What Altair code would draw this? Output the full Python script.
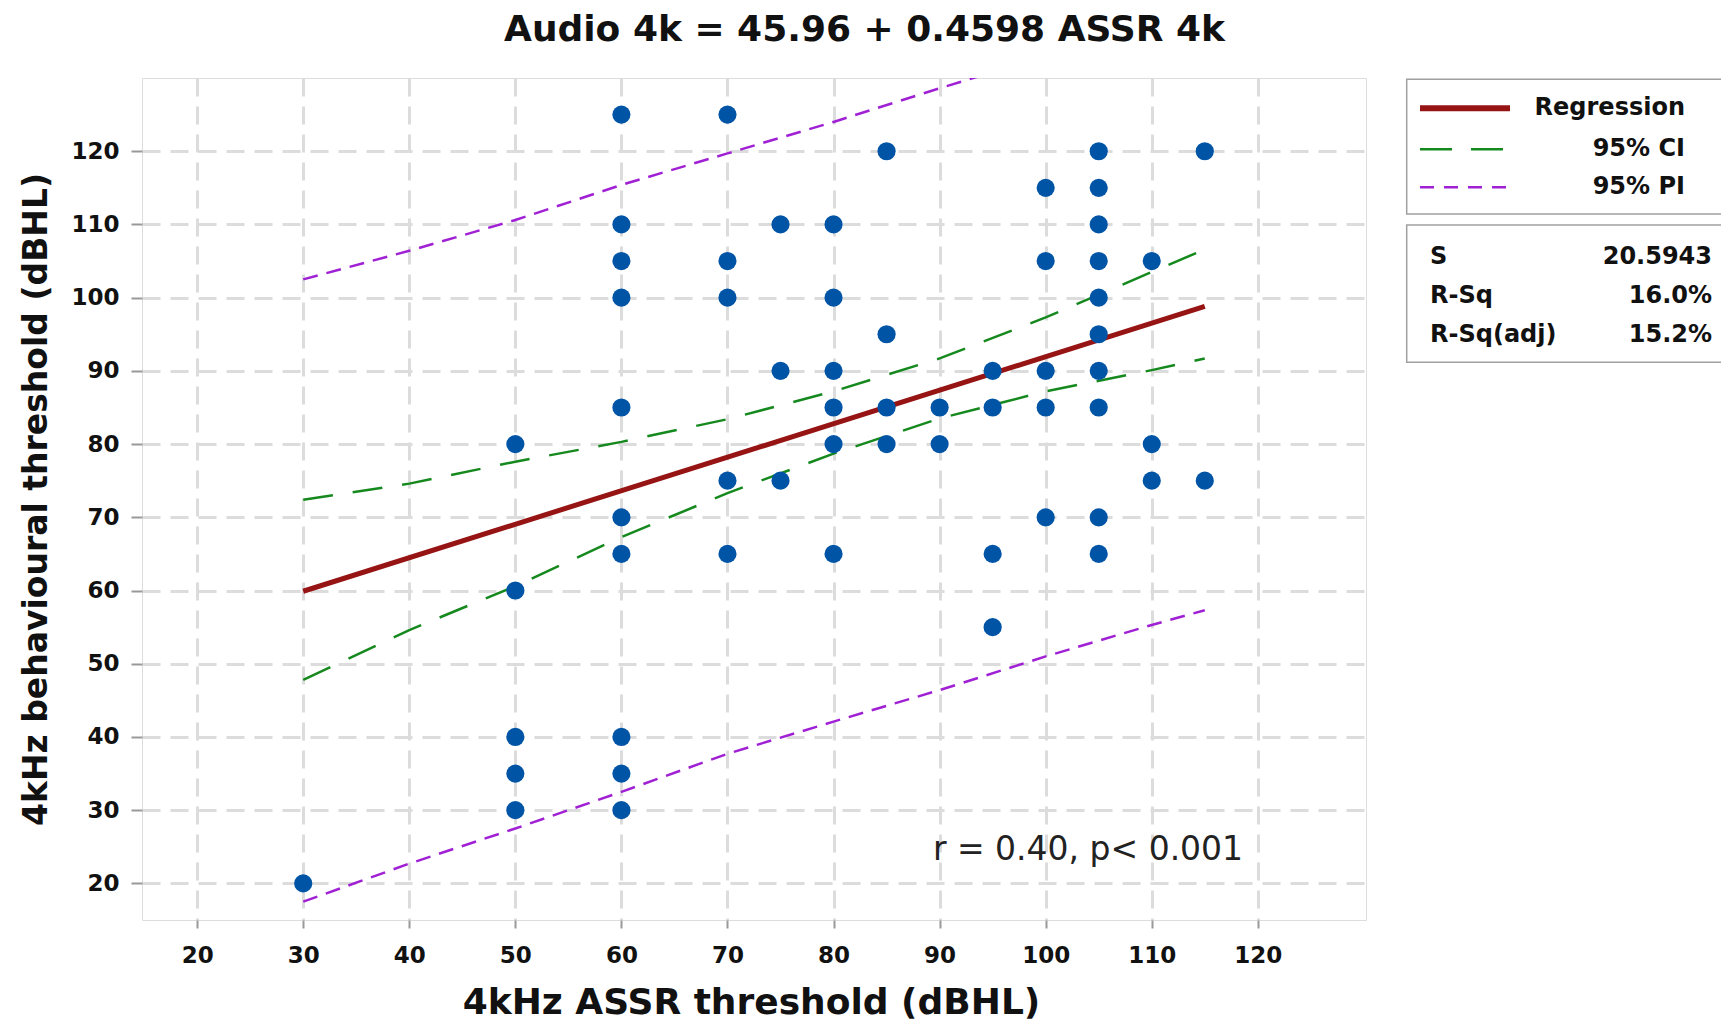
import altair as alt
import pandas as pd

# ---------------- data ----------------
assr_x = [30,
          50, 50, 50, 50, 50,
          60, 60, 60, 60, 60, 60, 60, 60, 60, 60,
          70, 70, 70, 70, 70,
          75, 75, 75,
          80, 80, 80, 80, 80, 80,
          85, 85, 85, 85,
          90, 90,
          95, 95, 95, 95,
          100, 100, 100, 100, 100,
          105, 105, 105, 105, 105, 105, 105, 105, 105, 105,
          110, 110, 110,
          115, 115]
audio_y = [20,
           80, 60, 40, 35, 30,
           125, 110, 105, 100, 85, 70, 65, 40, 35, 30,
           125, 105, 100, 75, 65,
           110, 90, 75,
           110, 100, 90, 85, 80, 65,
           120, 95, 85, 80,
           85, 80,
           90, 85, 65, 55,
           115, 105, 90, 85, 70,
           120, 115, 110, 105, 100, 95, 90, 85, 70, 65,
           105, 80, 75,
           120, 75]

band_x = [30, 40, 50, 60, 70, 80, 90, 100, 110, 115]
ci_upper = [72.4, 74.6, 77.6, 80.3, 83.4, 87.2, 91.7, 97.3, 103.5, 106.6]
ci_lower = [47.8, 54.6, 60.6, 67.3, 73.3, 78.7, 83.5, 87.2, 90.1, 91.7]
pi_upper = [102.5, 106.4, 110.6, 115.4, 119.7, 124.0, 128.6, 133.0, 137.5, 139.7]
pi_lower = [17.5, 22.7, 27.5, 32.5, 37.7, 42.1, 46.4, 51.0, 55.3, 57.3]

reg_x = [30, 115]
reg_y = [59.9, 98.8]

x_ticks = [20, 30, 40, 50, 60, 70, 80, 90, 100, 110, 120]
y_ticks = [20, 30, 40, 50, 60, 70, 80, 90, 100, 110, 120]

title_text = "Audio 4k = 45.96 + 0.4598 ASSR 4k"
x_title = "4kHz ASSR threshold (dBHL)"
y_title = "4kHz behavioural threshold (dBHL)"
annotation = "r = 0.40, p< 0.001"
legend_labels = ["Regression", "95% CI", "95% PI"]
stats_labels = ["S", "R-Sq", "R-Sq(adj)"]
stats_values = ["20.5943", "16.0%", "15.2%"]

# ---------------- styling ----------------
FONT = "DejaVu Sans"
BLUE = "#0054A6"
RED = "#961414"
GREEN = "#16891E"
PURPLE = "#A020D4"
W, H = 1224, 842

pts = pd.DataFrame({"x": assr_x, "y": audio_y})
bands = pd.DataFrame({
    "x": band_x * 4,
    "y": ci_upper + ci_lower + pi_upper + pi_lower,
    "s": ["ciu"] * len(band_x) + ["cil"] * len(band_x) + ["piu"] * len(band_x) + ["pil"] * len(band_x),
})
reg = pd.DataFrame({"x": reg_x, "y": reg_y})
one = pd.DataFrame({"k": [0]})

xs = alt.Scale(domain=[14.8, 130.2], nice=False, zero=False)
ys = alt.Scale(domain=[15, 130], nice=False, zero=False)

x_axis = alt.Axis(values=x_ticks, title=x_title, grid=True, gridDash=[18, 10], gridColor="#DCDCDC",
                  gridWidth=3, domain=False, tickColor="#999999", tickWidth=2, tickSize=8,
                  labelFont=FONT, labelFontWeight="bold", labelFontSize=23, labelColor="#111111",
                  labelPadding=16, labelFlush=False, labelOverlap=False,
                  titleFont=FONT, titleFontWeight="bold", titleFontSize=36, titleColor="#111111",
                  titleX=609, titleY=93, titleBaseline="alphabetic", titleAnchor="middle", titleAlign="center")
y_axis = alt.Axis(values=y_ticks, title=y_title, grid=True, gridDash=[18, 10], gridColor="#DCDCDC",
                  gridWidth=3, domain=False, tickColor="#999999", tickWidth=2, tickSize=11,
                  labelFont=FONT, labelFontWeight="bold", labelFontSize=23, labelColor="#111111",
                  labelPadding=12, labelFlush=False, labelOverlap=False,
                  titleFont=FONT, titleFontWeight="bold", titleFontSize=33, titleColor="#111111",
                  titleX=-96, titleY=H / 2, titleAngle=270, titleBaseline="alphabetic", titleAlign="center")

X = alt.X("x:Q", scale=xs, axis=x_axis, title=x_title)
Y = alt.Y("y:Q", scale=ys, axis=y_axis, title=y_title)

base_pts = alt.Chart(pts).mark_circle(size=330, color=BLUE, opacity=1).encode(x=X, y=Y)

ci = alt.Chart(bands).transform_filter("datum.s == 'ciu' || datum.s == 'cil'").mark_line(
    color=GREEN, strokeWidth=2.5, strokeDash=[30, 20], clip=True).encode(x=X, y=Y, detail="s:N")
pi = alt.Chart(bands).transform_filter("datum.s == 'piu' || datum.s == 'pil'").mark_line(
    color=PURPLE, strokeWidth=2.5, strokeDash=[15, 9], clip=True).encode(x=X, y=Y, detail="s:N")
regl = alt.Chart(reg).mark_line(color=RED, strokeWidth=5, clip=True).encode(x=X, y=Y)

layers = [pi, ci, regl, base_pts]

# title & annotation
layers.append(alt.Chart(one).mark_text(font=FONT, fontWeight="bold", fontSize=36, color="#111111",
                                       align="center", baseline="alphabetic").encode(
    x=alt.value(722.5), y=alt.value(-37), text=alt.value(title_text)))
layers.append(alt.Chart(one).mark_text(font=FONT, fontSize=33, color="#222222",
                                       align="center", baseline="alphabetic").encode(
    x=alt.value(946), y=alt.value(782), text=alt.value(annotation)))

# legend box and stats box
for (y0, y1) in [(1.3, 136), (147, 284.3)]:
    layers.append(alt.Chart(one).mark_rect(fillOpacity=0, stroke="#A0A0A0", strokeWidth=1.5).encode(
        x=alt.value(1264.7), x2=alt.value(1700), y=alt.value(y0), y2=alt.value(y1)))

sym_styles = [
    dict(color=RED, strokeWidth=6),
    dict(color=GREEN, strokeWidth=2.5, strokeDash=[32, 19]),
    dict(color=PURPLE, strokeWidth=2.5, strokeDash=[14, 10]),
]
sym_y = [30.3, 71.3, 109.3]
lab_y = [37, 78, 116]
for lab, st, sy, ly in zip(legend_labels, sym_styles, sym_y, lab_y):
    layers.append(alt.Chart(one).mark_rule(**st).encode(
        x=alt.value(1278), x2=alt.value(1368), y=alt.value(sy)))
    layers.append(alt.Chart(one).mark_text(font=FONT, fontWeight="bold", fontSize=24, color="#111111",
                                           align="right", baseline="alphabetic").encode(
        x=alt.value(1543), y=alt.value(ly), text=alt.value(lab)))

stat_y = [186.3, 225, 263.7]
for lab, val, sy in zip(stats_labels, stats_values, stat_y):
    layers.append(alt.Chart(one).mark_text(font=FONT, fontWeight="bold", fontSize=24, color="#111111",
                                           align="left", baseline="alphabetic").encode(
        x=alt.value(1288), y=alt.value(sy), text=alt.value(lab)))
    layers.append(alt.Chart(one).mark_text(font=FONT, fontWeight="bold", fontSize=24, color="#111111",
                                           align="right", baseline="alphabetic").encode(
        x=alt.value(1570), y=alt.value(sy), text=alt.value(val)))

chart = alt.layer(*layers).properties(
    width=W, height=H,
    autosize=alt.AutoSizeParams(type="none"),
    padding={"left": 134, "top": 70, "right": 355, "bottom": 100},
).configure_view(stroke="#A0A0A0", strokeWidth=2).configure(background="white")

chart.save("out.html", embed_options={"renderer": "svg", "actions": False})
